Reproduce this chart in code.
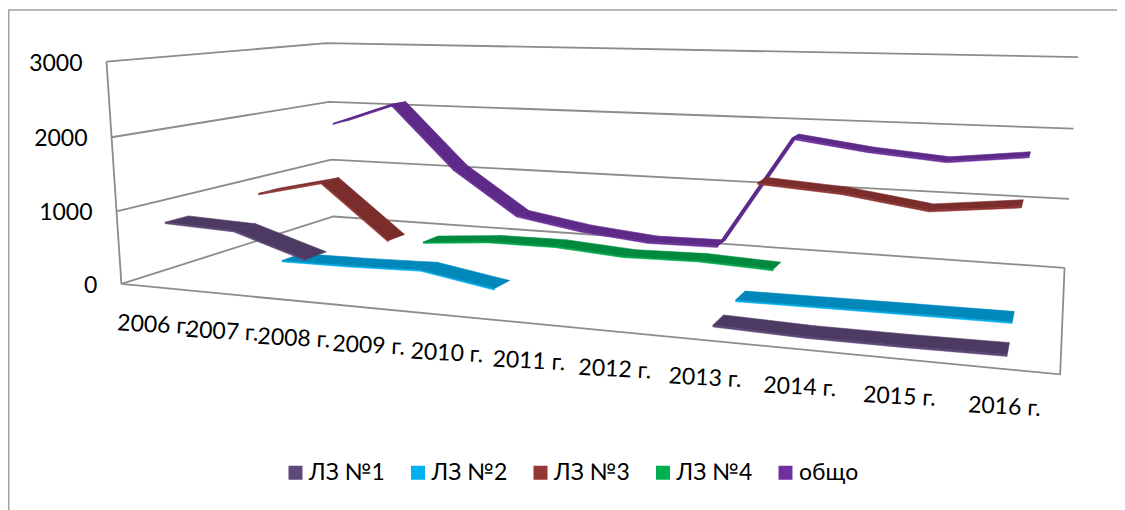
import numpy as np, pandas as pd, altair as alt

years = [f"{y} г." for y in range(2006, 2017)]
names = ["ЛЗ №1", "ЛЗ №2", "ЛЗ №3", "ЛЗ №4", "общо"]
ticks = [0, 1000, 2000, 3000]
s1 = [836, 795, 484, None, None, None, None, 103, 71, 69, 78]
s2 = [None, 165, 174, 199, 27, None, None, 150, 159, 166, 171]
s3 = [894, 1120, 320, None, None, None, None, 1462, 1389, 1231, 1347]
s4 = [None, None, 93, 175, 181, 107, 127, 81, None, None, None]
s5 = [1728, 2079, 1077, 387, 214, 112, 125, 1803, 1658, 1564, 1685]
series = [s1, s2, s3, s4, s5]

side_col = ["#5F497A", "#00B0F0", "#953735", "#00B050", "#7030A0"]
top_col = ["#4D3A63", "#0088BB", "#7B2D2C", "#008A3E", "#5E2A8A"]
GRID = "#8C8C8C"
FONT = "Lato"

# perspective camera of the 3-D box: (category, depth, value/3000) -> page pixel
box = [
 ((0,0,0),(120.7,284)),((0,0,1/3),(117,211)),((0,0,2/3),(112,137)),((0,0,1),(106.4,61.7)),
 ((0,1,0),(334,216.7)),((0,1,1/3),(331,160)),((0,1,2/3),(328.6,101.7)),((0,1,1),(327,43)),
 ((1,1,0),(1064.5,267)),((1,1,1/3),(1069,199)),((1,1,2/3),(1073.5,128.7)),((1,1,1),(1078,57.3)),
 ((1,0,0),(1060,375)),
]
A = []
for (u, w, t), (x, y) in box:
    X = [u, w, t, 1]
    x /= 1000; y /= 1000
    A.append(X + [0, 0, 0, 0] + [-x * c for c in X])
    A.append([0, 0, 0, 0] + X + [-y * c for c in X])
P = np.linalg.svd(np.array(A))[2][-1].reshape(3, 4)
P[:2] *= 1000


def proj(u, w, v):
    q = P @ np.array([u, w, v / 3000, 1.0])
    return q[0] / q[2], q[1] / q[2]


def cat(i):
    return (i + 0.5) / len(years)


def quad_rows(quad, key):
    """Turn a convex quad into x / y / y2 rows for an area mark."""
    xs = sorted({round(p[0], 3) for p in quad})
    rows = []
    n = len(quad)
    for x in xs:
        ys = []
        for a in range(n):
            p, q = quad[a], quad[(a + 1) % n]
            lo, hi = min(p[0], q[0]), max(p[0], q[0])
            if lo - 1e-3 <= x <= hi + 1e-3:
                if abs(q[0] - p[0]) < 1e-6:
                    ys += [p[1], q[1]]
                else:
                    ys.append(p[1] + (q[1] - p[1]) * (x - p[0]) / (q[0] - p[0]))
        rows.append({"x": x, "y": min(ys), "y2": max(ys), "seg": key})
    return rows


HALF = 0.046   # half of the ribbon's depth
THICK = 22     # ribbon edge height in value units

xs = alt.Scale(domain=[8, 1117], nice=False, zero=False)
ys = alt.Scale(domain=[510, 8], nice=False, zero=False)
X = alt.X("x:Q", scale=xs, axis=None)
Y = alt.Y("y:Q", scale=ys, axis=None)
Y2 = alt.Y2("y2:Q")
legend = alt.Legend(
    orient="none", legendX=276, legendY=453, direction="horizontal", columns=5,
    title=None, symbolType="square", symbolSize=196, symbolStrokeWidth=0,
    labelFont=FONT, labelFontSize=23, labelColor="#000000", columnPadding=21.5,
    symbolOpacity=1, labelOffset=2,
)
color = alt.Color("name:N", scale=alt.Scale(domain=names, range=side_col), legend=legend)

layers = []

# chart-area frame
frame = pd.DataFrame({"x": [8.7, 8.7, 1117], "y": [510, 10, 10]})
layers.append(alt.Chart(frame).mark_line(color="#A0A0A0", strokeWidth=1.5).encode(X, Y, order="index:O")
              .transform_window(index="row_number()"))

# walls and floor
grid_rows = []
for v in ticks:
    for k, (u, w) in enumerate([(0, 0), (0, 1), (1, 1)]):
        px, py = proj(u, w, v)
        grid_rows.append({"x": px, "y": py, "g": f"g{v}", "o": k})
for k, (u, w, v) in enumerate([(0, 0, 0), (1, 0, 0), (1, 1, 0)]):
    px, py = proj(u, w, v)
    grid_rows.append({"x": px, "y": py, "g": "floor", "o": k})
for k, v in enumerate([0, 3000]):
    px, py = proj(0, 0, v)
    grid_rows.append({"x": px, "y": py, "g": "axis", "o": k})
layers.append(alt.Chart(pd.DataFrame(grid_rows)).mark_line(color=GRID, strokeWidth=1.8).encode(
    X, Y, detail="g:N", order="o:Q"))

# ribbons, rear series first
for s in range(len(series) - 1, -1, -1):
    vals = series[s]
    wc = (s + 0.5) / len(series)
    f, b = wc - HALF, wc + HALF
    top_rows, side_rows = [], []
    for i in range(len(vals) - 1):
        if vals[i] is None or vals[i + 1] is None:
            continue
        u0, u1, v0, v1 = cat(i), cat(i + 1), vals[i], vals[i + 1]
        top_rows += quad_rows([proj(u0, f, v0), proj(u1, f, v1), proj(u1, b, v1), proj(u0, b, v0)], i)
        side_rows += quad_rows([proj(u0, f, v0), proj(u1, f, v1), proj(u1, f, v1 - THICK), proj(u0, f, v0 - THICK)], i)
    sd = pd.DataFrame(side_rows).assign(name=names[s])
    td = pd.DataFrame(top_rows)
    layers.append(alt.Chart(sd).mark_area(stroke=side_col[s], strokeWidth=0.4).encode(
        X, Y, Y2, color, detail="seg:N"))
    layers.append(alt.Chart(td).mark_area(color=top_col[s], stroke=top_col[s], strokeWidth=0.6).encode(
        X, Y, Y2, detail="seg:N"))

# tick labels
val_rows = []
for v in ticks:
    px, py = proj(0, 0, v)
    val_rows.append({"x": px, "y": py, "t": str(v)})
layers.append(alt.Chart(pd.DataFrame(val_rows)).mark_text(
    font=FONT, fontSize=23, align="right", baseline="middle", dx=-24, dy=2, color="#000000"
).encode(X, Y, text="t:N"))

cat_rows = []
for i, t in enumerate(years):
    px, py = proj(cat(i), 0, 0)
    cat_rows.append({"x": px, "y": py, "t": t})
layers.append(alt.Chart(pd.DataFrame(cat_rows)).mark_text(
    font=FONT, fontSize=23, align="center", baseline="middle", dx=1, dy=38, angle=3, color="#000000"
).encode(X, Y, text="t:N"))

chart = alt.layer(*layers).properties(
    width=1109, height=502, padding=0,
    autosize=alt.AutoSizeParams(type="none"), background="#FFFFFF",
).configure_view(stroke=None)

chart.save("out.html", embed_options={"renderer": "svg", "actions": False})
